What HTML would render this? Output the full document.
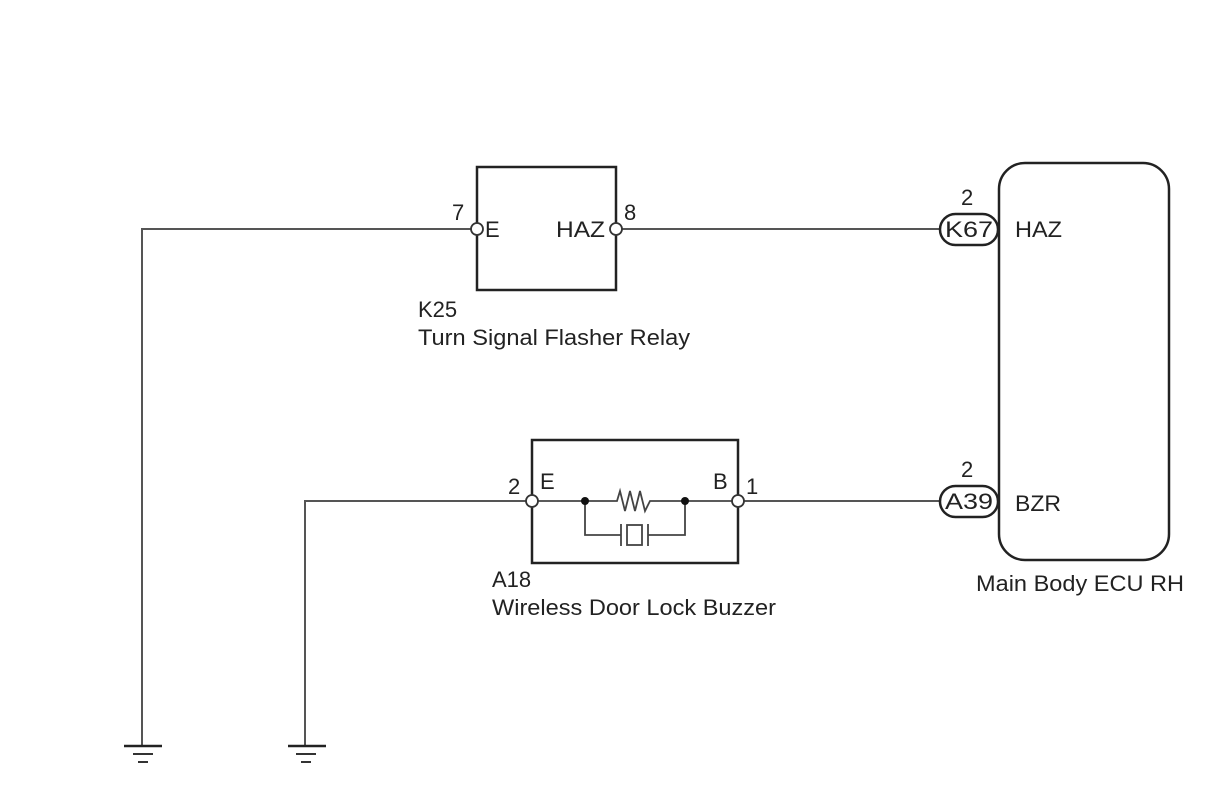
<!DOCTYPE html>
<html><head><meta charset="utf-8"><style>html,body{margin:0;padding:0;background:#fff}svg{display:block}</style></head>
<body>
<svg width="1206" height="812" viewBox="0 0 1206 812" xmlns="http://www.w3.org/2000/svg" font-family="Liberation Sans, Arial, sans-serif" font-size="22" fill="#222">
<g stroke="#555" stroke-width="2" fill="none">
<polyline points="142,746 142,229 472,229"/>
<line x1="621" y1="229" x2="940" y2="229"/>
<polyline points="305,746 305,501 527,501"/>
<line x1="743" y1="501" x2="940" y2="501"/>
</g>
<g stroke="#222" stroke-width="2.5" fill="none">
<rect x="477" y="167" width="139" height="123"/>
<rect x="532" y="440" width="206" height="123"/>
<rect x="999" y="163" width="170" height="397" rx="26"/>
<rect x="940" y="214" width="58" height="31" rx="15.5"/>
<rect x="940" y="486" width="58" height="31" rx="15.5"/>
<line x1="124" y1="746" x2="162" y2="746"/>
<line x1="288" y1="746" x2="326" y2="746"/>
</g>
<g stroke="#333" stroke-width="2" fill="none">
<line x1="133" y1="754" x2="153" y2="754"/><line x1="138" y1="762" x2="148" y2="762"/>
<line x1="296" y1="754" x2="316" y2="754"/><line x1="301" y1="762" x2="311" y2="762"/>
</g>
<g stroke="#444" stroke-width="1.8" fill="none">
<polyline points="537,501 617,501 620,491 625,511 630,491 635,511 640,491 645,511 650,501 733,501"/>
<polyline points="585,501 585,535 621,535"/>
<polyline points="685,501 685,535 648,535"/>
<line x1="621" y1="524" x2="621" y2="546"/>
<line x1="648" y1="524" x2="648" y2="546"/>
<rect x="627" y="525" width="15" height="20"/>
</g>
<circle cx="585" cy="501" r="4" fill="#111"/><circle cx="685" cy="501" r="4" fill="#111"/>
<g fill="#fff" stroke="#333" stroke-width="1.8">
<circle cx="477" cy="229" r="6"/><circle cx="616" cy="229" r="6"/>
<circle cx="532" cy="501" r="6"/><circle cx="738" cy="501" r="6"/>
</g>
<text x="452" y="220">7</text>
<text x="485" y="237">E</text>
<text x="556" y="237" textLength="49" lengthAdjust="spacingAndGlyphs">HAZ</text>
<text x="624" y="220">8</text>
<text x="418" y="317">K25</text>
<text x="418" y="345" textLength="272" lengthAdjust="spacingAndGlyphs">Turn Signal Flasher Relay</text>
<text x="961" y="205">2</text>
<text x="945" y="237" textLength="48" lengthAdjust="spacingAndGlyphs">K67</text>
<text x="1015" y="237" textLength="47" lengthAdjust="spacingAndGlyphs">HAZ</text>
<text x="508" y="494">2</text>
<text x="540" y="489">E</text>
<text x="713" y="489">B</text>
<text x="746" y="494">1</text>
<text x="492" y="587">A18</text>
<text x="492" y="615" textLength="284" lengthAdjust="spacingAndGlyphs">Wireless Door Lock Buzzer</text>
<text x="961" y="477">2</text>
<text x="945" y="509" textLength="48" lengthAdjust="spacingAndGlyphs">A39</text>
<text x="1015" y="511" textLength="46" lengthAdjust="spacingAndGlyphs">BZR</text>
<text x="976" y="591" textLength="208" lengthAdjust="spacingAndGlyphs">Main Body ECU RH</text>
</svg>
</body></html>
